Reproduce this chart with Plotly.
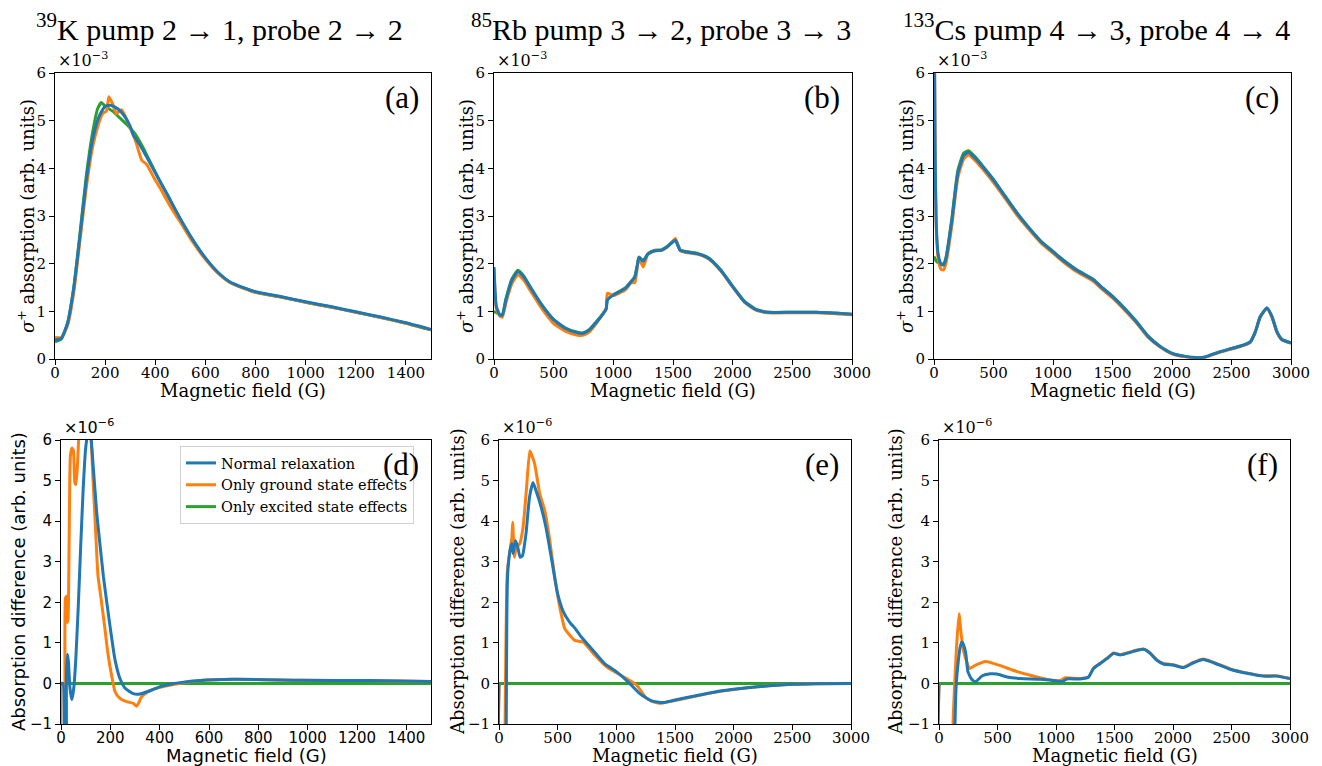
import plotly.graph_objects as go

BLUE = "#1f77b4"
ORANGE = "#ff7f0e"
GREEN = "#2ca02c"

# ---------------- data (top row values in units of 1e-3, bottom row in 1e-6) -------------
titles = ["<sup>39</sup>K pump 2 → 1, probe 2 → 2",
          "<sup>85</sup>Rb pump 3 → 2, probe 3 → 3",
          "<sup>133</sup>Cs pump 4 → 3, probe 4 → 4"]
panel_labels = ["(a)", "(b)", "(c)", "(d)", "(e)", "(f)"]
series_names = ["Normal relaxation", "Only ground state effects", "Only excited state effects"]
x_title = "Magnetic field (G)"
y_title_top = "<i>σ</i><sup>+</sup> absorption (arb. units)"
y_title_bottom = "Absorption difference (arb. units)"

# (a) 39K absorption
a_x_blue = [0, 25, 50, 75, 100, 125, 150, 175, 200, 225, 250, 275, 300, 313, 340, 373, 406, 446, 499, 550,
            600, 650, 700, 800, 900, 1000, 1100, 1200, 1300, 1400, 1500]
a_blue = [0.40, 0.43, 0.75, 1.5, 2.6, 3.75, 4.6, 5.08, 5.3, 5.32, 5.25, 5.11, 4.88, 4.69, 4.48, 4.17, 3.85,
          3.47, 2.95, 2.5, 2.12, 1.82, 1.61, 1.41, 1.31, 1.20, 1.10, 0.99, 0.88, 0.76, 0.62]
a_x_orange = [0, 25, 50, 75, 100, 125, 150, 175, 190, 205, 215, 230, 245, 265, 280, 300, 320, 346, 366, 393,
              420, 446, 473, 499, 550, 600, 650, 700, 800, 900, 1000, 1100, 1200, 1300, 1400, 1500]
a_orange = [0.45, 0.45, 0.7, 1.4, 2.5, 3.6, 4.45, 4.95, 5.15, 5.2, 5.5, 5.35, 5.15, 5.23, 5.1, 4.85, 4.6, 4.17,
            4.08, 3.82, 3.58, 3.33, 3.09, 2.88, 2.45, 2.09, 1.8, 1.6, 1.4, 1.3, 1.19, 1.09, 0.98, 0.87, 0.75, 0.61]
a_x_green = [0, 25, 50, 75, 100, 125, 150, 170, 185, 200, 230, 260, 290, 320, 350, 400, 446, 499, 550, 600,
             650, 700, 800, 900, 1000, 1100, 1200, 1300, 1400, 1500]
a_green = [0.36, 0.42, 0.75, 1.5, 2.65, 3.85, 4.75, 5.25, 5.38, 5.3, 5.2, 5.05, 4.9, 4.72, 4.45, 3.92, 3.46,
           2.94, 2.49, 2.11, 1.81, 1.60, 1.40, 1.30, 1.19, 1.09, 0.98, 0.87, 0.75, 0.61]

# (b) 85Rb absorption
b_x = [0, 20, 50, 70, 100, 150, 200, 250, 300, 400, 500, 600, 700, 750, 800, 850, 900, 940, 950, 1000,
       1100, 1150, 1180, 1200, 1215, 1250, 1290, 1350, 1400, 1450, 1500, 1520, 1560, 1600, 1700, 1800, 1900,
       2000, 2100, 2200, 2300, 2500, 2700, 3000]
b_blue = [1.93, 1.1, 0.92, 0.92, 1.24, 1.65, 1.83, 1.72, 1.52, 1.13, 0.82, 0.64, 0.55, 0.54, 0.61, 0.75, 0.9,
          1.05, 1.24, 1.34, 1.48, 1.62, 1.72, 1.95, 2.13, 2.05, 2.2, 2.27, 2.28, 2.35, 2.46, 2.49, 2.28, 2.25,
          2.21, 2.11, 1.86, 1.52, 1.2, 1.03, 0.98, 0.98, 0.98, 0.94]
b_orange = [1.9, 1.05, 0.9, 0.88, 1.18, 1.58, 1.76, 1.65, 1.45, 1.06, 0.74, 0.58, 0.5, 0.5, 0.57, 0.72, 0.9,
            1.05, 1.38, 1.33, 1.45, 1.6, 1.6, 1.9, 2.12, 1.93, 2.2, 2.27, 2.28, 2.35, 2.47, 2.53, 2.28, 2.24,
            2.2, 2.1, 1.85, 1.51, 1.19, 1.02, 0.97, 0.97, 0.97, 0.93]
b_green = [1.0, 0.97, 0.93, 0.93, 1.26, 1.68, 1.86, 1.74, 1.53, 1.14, 0.83, 0.65, 0.56, 0.55, 0.62, 0.76, 0.91,
           1.06, 1.25, 1.35, 1.49, 1.63, 1.73, 1.96, 2.14, 2.06, 2.21, 2.28, 2.29, 2.36, 2.47, 2.5, 2.29, 2.26,
           2.22, 2.12, 1.87, 1.53, 1.21, 1.04, 0.98, 0.98, 0.98, 0.94]

# (c) 133Cs absorption
c_x = [0, 10, 20, 35, 60, 80, 100, 150, 200, 250, 290, 350, 400, 500, 600, 700, 800, 900, 1000, 1050,
       1100, 1200, 1300, 1350, 1400, 1500, 1600, 1700, 1800, 1900, 2000, 2100, 2200, 2250, 2300, 2400, 2500,
       2600, 2658, 2700, 2742, 2798, 2840, 2882, 2924, 3000]
c_blue = [8.0, 4.2, 2.77, 2.2, 1.99, 1.97, 2.1, 2.9, 3.89, 4.27, 4.34, 4.2, 4.06, 3.75, 3.4, 3.05, 2.74, 2.46,
          2.25, 2.14, 2.04, 1.86, 1.72, 1.64, 1.52, 1.31, 1.06, 0.78, 0.47, 0.26, 0.12, 0.06, 0.03, 0.03, 0.06,
          0.15, 0.22, 0.29, 0.36, 0.57, 0.89, 1.07, 0.89, 0.57, 0.41, 0.34]
c_orange = [8.0, 4.1, 2.7, 2.1, 1.88, 1.87, 2.0, 2.8, 3.8, 4.2, 4.28, 4.15, 4.01, 3.7, 3.36, 3.01, 2.71, 2.43,
            2.22, 2.11, 2.01, 1.83, 1.69, 1.61, 1.49, 1.28, 1.03, 0.76, 0.45, 0.25, 0.11, 0.05, 0.02, 0.02, 0.05,
            0.14, 0.21, 0.28, 0.35, 0.56, 0.88, 1.06, 0.88, 0.56, 0.40, 0.33]
c_green = [2.15, 2.1, 2.05, 2.02, 2.0, 1.99, 2.12, 2.95, 3.95, 4.32, 4.37, 4.23, 4.08, 3.77, 3.41, 3.06, 2.75,
           2.47, 2.26, 2.15, 2.05, 1.87, 1.73, 1.65, 1.53, 1.32, 1.07, 0.79, 0.48, 0.27, 0.12, 0.06, 0.03, 0.03,
           0.06, 0.15, 0.22, 0.29, 0.36, 0.57, 0.89, 1.07, 0.89, 0.57, 0.41, 0.34]

# (d) 39K difference
d_x_blue = [0, 8, 11, 17, 22, 26, 30, 36, 44, 52, 60, 70, 80, 90, 100, 110, 120, 130, 145, 172,
            199, 219, 239, 260, 293, 320, 361, 402, 442, 483, 564, 699, 970, 1240, 1500]
d_blue = [0, 0, -8, -8, 0.2, 0.72, 0.55, -0.1, -0.4, -0.1, 0.6, 1.9, 3.4, 4.8, 5.8, 6.2, 6.1, 5.4, 4.2, 2.63,
          1.4, 0.58, 0.12, -0.12, -0.25, -0.26, -0.18, -0.08, -0.02, 0.02, 0.07, 0.1, 0.08, 0.07, 0.05]
d_x_orange = [0, 6, 14, 18, 23, 25, 28, 33, 38, 44, 50, 56, 60, 66, 74, 100, 120, 130, 140, 150,
              160, 175, 190, 205, 219, 239, 266, 293, 307, 327, 354, 388, 429, 480, 564, 699, 970, 1240, 1500]
d_orange = [0, -8, -8, 2.1, 2.15, 1.5, 1.55, 3.5, 5.6, 5.8, 5.75, 4.95, 4.9, 5.3, 6.3, 8, 6.3, 5.0, 3.8, 2.65,
            2.2, 1.5, 0.75, 0.2, -0.2, -0.37, -0.45, -0.49, -0.56, -0.33, -0.2, -0.12, -0.06, 0.0, 0.07, 0.1,
            0.08, 0.07, 0.05]
d_x_green = [0, 1500]
d_green = [0, 0]

# (e) 85Rb difference
e_x_blue = [0, 5, 55, 62, 66, 70, 80, 100, 110, 120, 140, 160, 180, 200, 230, 260, 290, 320, 360, 400,
            450, 500, 550, 600, 650, 700, 800, 900, 1000, 1100, 1200, 1300, 1400, 1500, 1700, 1900, 2100,
            2300, 2500, 2700, 3000]
e_blue = [0, -10, -10, -1, 1.2, 2.37, 2.95, 3.36, 3.44, 3.2, 3.52, 3.36, 3.11, 3.15, 3.69, 4.59, 4.95, 4.71,
          4.34, 3.85, 3.03, 2.21, 1.76, 1.52, 1.35, 1.15, 0.82, 0.49, 0.29, 0.04, -0.25, -0.43, -0.47, -0.41,
          -0.29, -0.18, -0.11, -0.06, -0.02, -0.005, 0]
e_x_orange = [0, 5, 45, 52, 58, 70, 85, 100, 110, 117, 125, 131, 148, 176, 205, 233, 262, 276, 305, 347,
              390, 433, 475, 518, 561, 603, 646, 717, 803, 917, 1087, 1173, 1258, 1344, 1400, 1500, 1700,
              1900, 2100, 2300, 2500, 2700, 3000]
e_orange = [0, -10, -10, -1, 0.8, 2.7, 3.1, 3.4, 3.6, 3.97, 3.4, 3.11, 3.36, 3.44, 3.85, 4.75, 5.73, 5.65,
            5.4, 4.67, 4.26, 3.52, 2.62, 1.88, 1.35, 1.19, 1.06, 1.02, 0.74, 0.41, 0.12, -0.04, -0.37, -0.48,
            -0.48, -0.42, -0.3, -0.19, -0.11, -0.06, -0.02, -0.005, 0]
e_x_green = [0, 3000]
e_green = [0, 0]

# (f) 133Cs difference
f_x_blue = [0, 5, 130, 137, 148, 165, 180, 195, 210, 229, 247, 280, 313, 370, 441, 495, 581, 695, 865, 1008,
            1050, 1093, 1207, 1278, 1321, 1378, 1435, 1492, 1549, 1605, 1662, 1748, 1805, 1862, 1918, 2004,
            2089, 2175, 2260, 2346, 2488, 2630, 2772, 2886, 3000]
f_blue = [0, -10, -10, -1, 0, 0.55, 0.88, 1.02, 0.95, 0.74, 0.29, 0.1, 0.04, 0.19, 0.24, 0.23, 0.16, 0.12,
          0.1, 0.06, 0.04, 0.11, 0.11, 0.16, 0.37, 0.49, 0.61, 0.74, 0.7, 0.74, 0.79, 0.84, 0.74, 0.57, 0.48,
          0.45, 0.39, 0.51, 0.59, 0.51, 0.35, 0.25, 0.18, 0.18, 0.12]
f_x_orange = [0, 5, 115, 120, 134, 150, 171, 190, 210, 233, 262, 313, 398, 512, 626, 780, 922, 1036, 1079,
              1207, 1278, 1321, 1378, 1435, 1492, 1549, 1605, 1662, 1748, 1805, 1862, 1918, 2004, 2089, 2175,
              2260, 2346, 2488, 2630, 2772, 2886, 3000]
f_orange = [0, -10, -10, -1, 0, 0.9, 1.72, 1.2, 0.8, 0.57, 0.37, 0.45, 0.54, 0.45, 0.33, 0.2, 0.1, 0.07, 0.14,
            0.12, 0.16, 0.38, 0.5, 0.62, 0.75, 0.71, 0.75, 0.8, 0.85, 0.75, 0.58, 0.49, 0.46, 0.4, 0.52, 0.6,
            0.52, 0.36, 0.26, 0.19, 0.19, 0.12]
f_x_green = [0, 3000]
f_green = [0, 0]

x_ticks_1500 = [0, 200, 400, 600, 800, 1000, 1200, 1400]
x_ticks_3000 = [0, 500, 1000, 1500, 2000, 2500, 3000]

# ---------------- layout geometry (screen pixels; page body has an 8px margin) ----------------
OFF = 8
W, H = 1322 - OFF, 766 - OFF
SERIF = "DejaVu Serif"
SANS = "DejaVu Sans"
CM = "Liberation Serif"


def px(X):
    return (X - OFF) / W


def py(Y):
    return (H - (Y - OFF)) / H


panels = [
    dict(px=(55, 431), py=(73, 359), xmax=1500, xt=x_ticks_1500, ymin=0, font=SERIF, ytx=26,
         yt=y_title_top, exp="×10<sup>−3</sup>",
         s=[(a_x_green, a_green), (a_x_orange, a_orange), (a_x_blue, a_blue)]),
    dict(px=(494, 852), py=(73, 359), xmax=3000, xt=x_ticks_3000, ymin=0, font=SERIF, ytx=465,
         yt=y_title_top, exp="×10<sup>−3</sup>",
         s=[(b_x, b_green), (b_x, b_orange), (b_x, b_blue)]),
    dict(px=(934, 1291), py=(73, 359), xmax=3000, xt=x_ticks_3000, ymin=0, font=SERIF, ytx=905,
         yt=y_title_top, exp="×10<sup>−3</sup>",
         s=[(c_x, c_green), (c_x, c_orange), (c_x, c_blue)]),
    dict(px=(61, 431), py=(440, 724), xmax=1500, xt=x_ticks_1500, ymin=-1, font=SANS, ytx=18,
         yt=y_title_bottom, exp="×10<sup>−6</sup>",
         s=[(d_x_green, d_green), (d_x_orange, d_orange), (d_x_blue, d_blue)]),
    dict(px=(499, 851), py=(440, 724), xmax=3000, xt=x_ticks_3000, ymin=-1, font=SERIF, ytx=457,
         yt=y_title_bottom, exp="×10<sup>−6</sup>",
         s=[(e_x_green, e_green), (e_x_orange, e_orange), (e_x_blue, e_blue)]),
    dict(px=(939, 1290), py=(440, 724), xmax=3000, xt=x_ticks_3000, ymin=-1, font=SERIF, ytx=895,
         yt=y_title_bottom, exp="×10<sup>−6</sup>",
         s=[(f_x_green, f_green), (f_x_orange, f_orange), (f_x_blue, f_blue)]),
]

colors = [GREEN, ORANGE, BLUE]
names = [series_names[2], series_names[1], series_names[0]]
ranks = [3, 2, 1]

fig = go.Figure()
layout = dict(width=W, height=H, margin=dict(l=0, r=0, t=0, b=0, pad=0, autoexpand=False),
              paper_bgcolor="white", plot_bgcolor="white", showlegend=True)
annotations = []

for i, p in enumerate(panels):
    n = i + 1
    xa = "xaxis" if n == 1 else f"xaxis{n}"
    ya = "yaxis" if n == 1 else f"yaxis{n}"
    xref = "x" if n == 1 else f"x{n}"
    yref = "y" if n == 1 else f"y{n}"
    for k, (xs, ys) in enumerate(p["s"]):
        fig.add_trace(go.Scatter(
            x=xs, y=ys, mode="lines", xaxis=xref, yaxis=yref,
            line=dict(color=colors[k], width=3, shape="spline", smoothing=0.5),
            name=names[k], legendrank=ranks[k], showlegend=(i == 3), hoverinfo="skip"))
    f = p["font"]
    tickfont = dict(family=f, size=15, color="black")
    titlefont = dict(family=f, size=18, color="black")
    x0, x1 = p["px"]
    yt, yb = p["py"]
    layout[xa] = dict(domain=[px(x0), px(x1)], anchor=yref, range=[0, p["xmax"]],
                      tickvals=p["xt"], ticks="outside", ticklen=5, tickwidth=1, tickcolor="black",
                      ticklabelstandoff=-5,
                      showline=True, linecolor="black", linewidth=1, mirror=True, automargin=False,
                      showgrid=False, zeroline=False, tickfont=tickfont)
    layout[ya] = dict(domain=[py(yb), py(yt)], anchor=xref, range=[p["ymin"], 6],
                      tickvals=list(range(p["ymin"], 7)), ticks="outside", ticklen=5, tickwidth=1,
                      tickcolor="black", showline=True, linecolor="black", linewidth=1, mirror=True,
                      automargin=False, showgrid=False, zeroline=False, tickfont=tickfont)
    # axis titles
    annotations.append(dict(text=x_title, xref="paper", yref="paper", x=px((x0 + x1) / 2),
                            y=py(yb + 31), xanchor="center", yanchor="middle", showarrow=False,
                            font=titlefont))
    annotations.append(dict(text=p["yt"], xref="paper", yref="paper", x=px(p["ytx"]),
                            y=py((yt + yb) / 2), xanchor="center", yanchor="middle", showarrow=False,
                            textangle=-90, font=titlefont))
    # exponent label
    annotations.append(dict(text=p["exp"], xref="paper", yref="paper", x=px(x0 + 1),
                            y=py(yt - 1), xanchor="left", yanchor="bottom", showarrow=False,
                            font=dict(family=f, size=16, color="black")))
    # panel label
    annotations.append(dict(text=panel_labels[i], xref="paper", yref="paper", x=px(x1 - 10),
                            y=py(yt + 5), xanchor="right", yanchor="top", showarrow=False,
                            font=dict(family=CM, size=31, color="black")))

title_centers = [219, 661, 1096]
for t, cx in zip(titles, title_centers):
    annotations.append(dict(text=t, xref="paper", yref="paper", x=px(cx), y=py(27),
                            xanchor="center", yanchor="middle", showarrow=False,
                            font=dict(family=CM, size=30, color="black")))

layout["annotations"] = annotations
layout["legend"] = dict(x=px(180), y=py(446), xanchor="left", yanchor="top",
                        bgcolor="rgba(255,255,255,0.8)", bordercolor="#d0d0d0", borderwidth=1,
                        font=dict(family=SERIF, size=14.5, color="black"), itemwidth=30,
                        tracegroupgap=0)
fig.update_layout(**layout)
fig.write_html("out.html")
